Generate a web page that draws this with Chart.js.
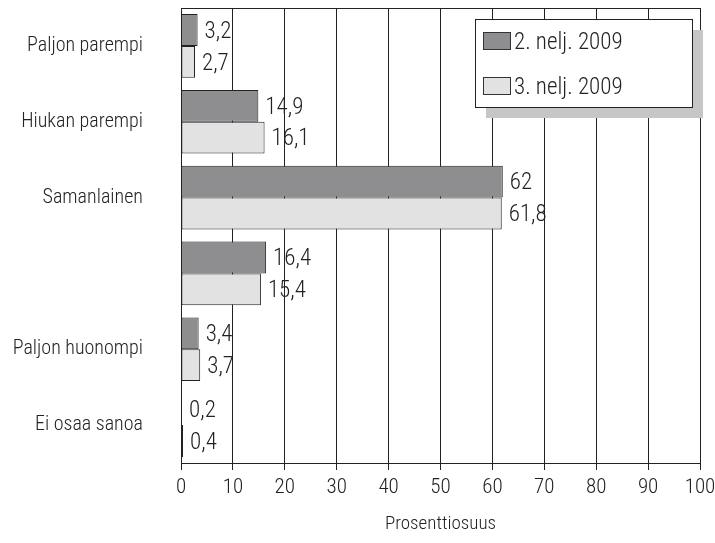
<!DOCTYPE html>
<html>
<head>
<meta charset="utf-8">
<script src="https://cdn.jsdelivr.net/npm/chart.js@4/dist/chart.umd.min.js"></script>
<style>
  html, body { margin: 0; padding: 0; background: #fff; }
  #wrap { width: 715px; height: 543px; }
</style>
</head>
<body>
<div id="wrap"><canvas id="c" width="715" height="543"></canvas></div>
<script>
const categories = ["Paljon parempi", "Hiukan parempi", "Samanlainen", "", "Paljon huonompi", "Ei osaa sanoa"];
const seriesNames = ["2. nelj. 2009", "3. nelj. 2009"];
const q2Values = [3.2, 14.9, 62, 16.4, 3.4, 0.2];
const q3Values = [2.7, 16.1, 61.8, 15.4, 3.7, 0.4];
const xTicks = [0, 10, 20, 30, 40, 50, 60, 70, 80, 90, 100];

const FONT = '"Liberation Sans Narrow", "Roboto Condensed", "Roboto", "DejaVu Sans Condensed", sans-serif';
const colors = ["#8e8e90", "#e2e2e3"];

// numbers next to the bar ends, finnish decimal comma
const valueLabels = {
  id: "valueLabels",
  afterDatasetsDraw(chart) {
    const ctx = chart.ctx;
    ctx.save();
    ctx.font = "300 23px " + FONT;
    ctx.fillStyle = "#222";
    ctx.textBaseline = "middle";
    chart.data.datasets.forEach((ds, i) => {
      chart.getDatasetMeta(i).data.forEach((bar, j) => {
        const txt = String(ds.data[j]).replace(".", ",");
        ctx.fillText(txt, bar.x + 7, bar.y + 2);
      });
    });
    ctx.restore();
  }
};

// top frame line + boxed legend with shadow
const frameAndLegend = {
  id: "frameAndLegend",
  afterDraw(chart) {
    const ctx = chart.ctx;
    const a = chart.chartArea;
    ctx.save();
    ctx.strokeStyle = "#222";
    ctx.lineWidth = 1;
    ctx.beginPath();
    ctx.moveTo(a.left, a.top + 0.5);
    ctx.lineTo(a.right, a.top + 0.5);
    ctx.stroke();

    const bx = a.right - 225, by = a.top + 11, bw = 217, bh = 88;
    ctx.fillStyle = "#c6c6c6";
    ctx.fillRect(bx + 11, by + 11, bw, bh);
    ctx.fillStyle = "#fff";
    ctx.fillRect(bx, by, bw, bh);
    ctx.strokeRect(bx + 0.5, by + 0.5, bw, bh);

    ctx.font = "300 23px " + FONT;
    ctx.textBaseline = "middle";
    seriesNames.forEach((name, i) => {
      const y = by + 22 + i * 45;
      ctx.fillStyle = colors[i];
      ctx.fillRect(bx + 8, y - 9, 28, 18);
      ctx.strokeStyle = "#333";
      ctx.strokeRect(bx + 8.5, y - 8.5, 27, 17);
      ctx.fillStyle = "#222";
      ctx.fillText(name, bx + 39, y + 2);
    });
    ctx.restore();
  }
};

new Chart(document.getElementById("c"), {
  type: "bar",
  data: {
    labels: categories,
    datasets: [
      { label: seriesNames[0], data: q2Values, backgroundColor: colors[0], borderColor: "#222", borderWidth: 1, borderSkipped: false },
      { label: seriesNames[1], data: q3Values, backgroundColor: colors[1], borderColor: "#222", borderWidth: 1, borderSkipped: false }
    ]
  },
  options: {
    indexAxis: "y",
    responsive: false,
    animation: false,
    layout: { padding: { top: 8, right: 15, left: 0, bottom: 0 } },
    datasets: { bar: { barPercentage: 1, categoryPercentage: 0.84 } },
    plugins: {
      legend: { display: false },
      tooltip: { enabled: false }
    },
    scales: {
      x: {
        min: 0,
        max: 100,
        afterBuildTicks(scale) { scale.ticks = xTicks.map(v => ({ value: v })); },
        afterFit(scale) {
          scale.height = 80;
          scale.paddingLeft = 0;
          scale.paddingRight = 0;
        },
        grid: { color: "#222", lineWidth: 1, drawTicks: true, tickLength: 7, tickColor: "#222" },
        border: { color: "#222", width: 1 },
        ticks: { color: "#222", font: { family: FONT, size: 21, weight: 300 }, padding: 5, maxRotation: 0 },
        title: { display: true, text: "Prosenttiosuus", color: "#222", font: { family: FONT, size: 19, weight: 300 }, padding: { top: 9, bottom: 7 } }
      },
      y: {
        afterFit(scale) {
          scale.width = 181;
          scale.paddingTop = 0;
          scale.paddingBottom = 0;
        },
        grid: { display: false, drawTicks: false },
        border: { color: "#222", width: 1 },
        ticks: { color: "#222", font: { family: FONT, size: 20, weight: 300 }, padding: 38 }
      }
    }
  },
  plugins: [valueLabels, frameAndLegend]
});
</script>
</body>
</html>
